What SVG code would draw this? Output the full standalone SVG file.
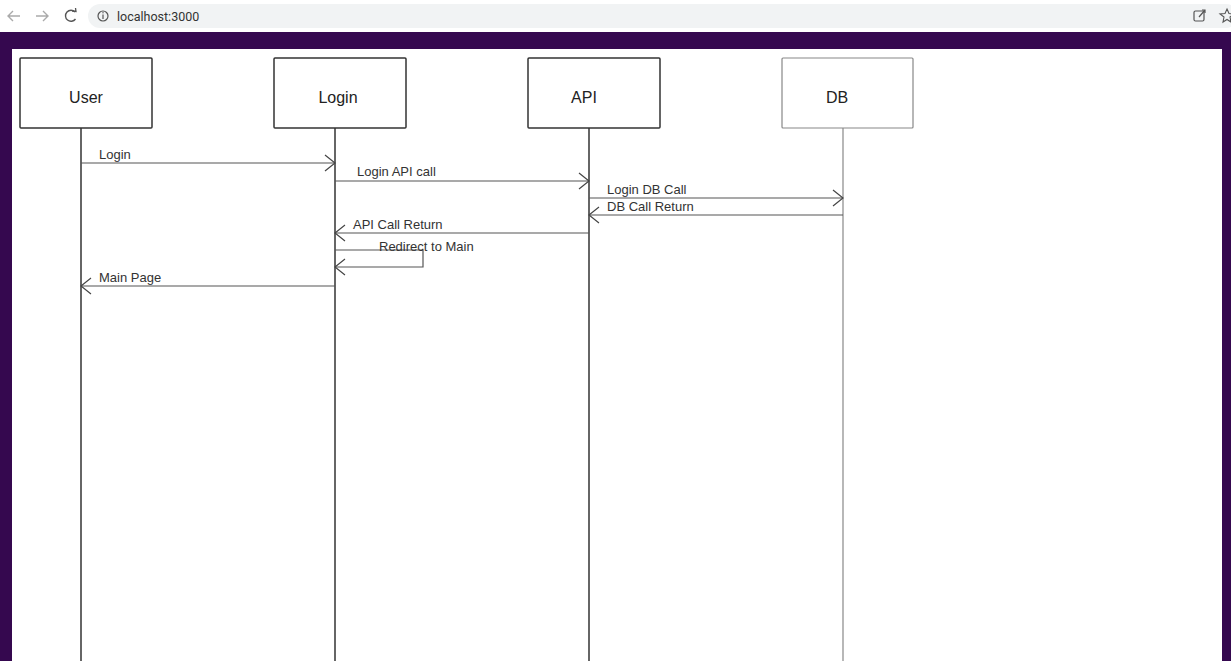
<svg xmlns="http://www.w3.org/2000/svg" width="1231" height="667" viewBox="0 0 1231 667">
<style>
.box{fill:#fff;stroke:#333;stroke-width:1.5}
.boxl{fill:#fff;stroke:#888;stroke-width:1.2}
.name{font-family:"Liberation Sans",Arial,sans-serif;font-size:16px;fill:#222;text-anchor:middle}
.life{stroke:#333;stroke-width:1.5}
.lifel{stroke:#888;stroke-width:1.2}
.msg{stroke:#555;stroke-width:1.2;fill:none}
.lbl{font-family:"Liberation Sans",Arial,sans-serif;font-size:13px;fill:#333}
.chrome{font-family:"Roboto","Liberation Sans",sans-serif;font-size:12.5px;fill:#333}
</style>
<defs>
<marker id="open" markerWidth="12" markerHeight="18" refX="11" refY="9" orient="auto" markerUnits="userSpaceOnUse">
<path d="M1,1 L11,9 L1,17" fill="none" stroke="#444" stroke-width="1.2"/>
</marker>
</defs>
<g id="browser">
<rect x="0" y="0" width="1231" height="32" fill="#fff"/>
<rect x="88" y="4" width="1150" height="24" rx="12" fill="#f1f3f4"/>
<path d="M20,16 H8 M13,11 L8,16 L13,21" fill="none" stroke="#aaa" stroke-width="1.4"/>
<path d="M36,16 H48 M43,11 L48,16 L43,21" fill="none" stroke="#aaa" stroke-width="1.4"/>
<path d="M75,12 A5.5,5.5 0 1 0 75.5,19" fill="none" stroke="#555" stroke-width="1.4"/>
<path d="M72,11 L76,11.5 L75.5,8" fill="none" stroke="#555" stroke-width="1.3"/>
<circle cx="103" cy="16" r="5" fill="none" stroke="#555" stroke-width="1.2"/>
<line x1="103" y1="14.5" x2="103" y2="19" stroke="#555" stroke-width="1.2"/>
<circle cx="103" cy="12.8" r="0.7" fill="#555"/>
<text class="chrome" x="117" y="20.5">localhost:3000</text>
<rect x="1194" y="11" width="10" height="10" rx="1.5" fill="none" stroke="#555" stroke-width="1.2"/>
<path d="M1199,17 L1205,10 M1202,10 H1205 V13" fill="none" stroke="#555" stroke-width="1.2"/>
<path d="M1227,9 L1229,13.5 L1234,14 L1230,17 L1231,22 L1227,19.5 L1223,22 L1224,17 L1220,14 L1225,13.5 Z" fill="none" stroke="#555" stroke-width="1.1"/>
</g>
<g id="frame">
<rect x="0" y="32" width="1231" height="629" fill="#35084f"/>
<rect x="12" y="49" width="1210" height="612" fill="#fff"/>
</g>
<g id="connectors">
<line class="life" x1="81" y1="128" x2="81" y2="661"/>
<line class="life" x1="335" y1="128" x2="335" y2="661"/>
<line class="life" x1="589" y1="128" x2="589" y2="661"/>
<line class="lifel" x1="843" y1="128" x2="843" y2="661"/>
<line class="msg" x1="81" y1="163" x2="335" y2="163" marker-end="url(#open)"/>
<line class="msg" x1="335" y1="181" x2="589" y2="181" marker-end="url(#open)"/>
<line class="msg" x1="589" y1="198" x2="843" y2="198" marker-end="url(#open)"/>
<line class="msg" x1="843" y1="215" x2="589" y2="215" marker-end="url(#open)"/>
<line class="msg" x1="589" y1="233" x2="335" y2="233" marker-end="url(#open)"/>
<polyline class="msg" points="335,250 423,250 423,267 335,267" marker-end="url(#open)"/>
<line class="msg" x1="335" y1="286" x2="81" y2="286" marker-end="url(#open)"/>
<text class="lbl" x="99" y="159">Login</text>
<text class="lbl" x="357" y="176">Login API call</text>
<text class="lbl" x="607" y="194">Login DB Call</text>
<text class="lbl" x="607" y="211">DB Call Return</text>
<text class="lbl" x="353" y="229">API Call Return</text>
<text class="lbl" x="379" y="251">Redirect to Main</text>
<text class="lbl" x="99" y="282">Main Page</text>
</g>
<g id="user"><rect class="box" x="20" y="58" width="132" height="70" rx="1"/><text class="name" x="86" y="103">User</text></g>
<g id="login"><rect class="box" x="274" y="58" width="132" height="70" rx="1"/><text class="name" x="338" y="103">Login</text></g>
<g id="api"><rect class="box" x="528" y="58" width="132" height="70" rx="1"/><text class="name" x="584" y="103">API</text></g>
<g id="db"><rect class="boxl" x="782" y="58" width="131" height="70" rx="1"/><text class="name" x="837" y="103">DB</text></g>
</svg>
